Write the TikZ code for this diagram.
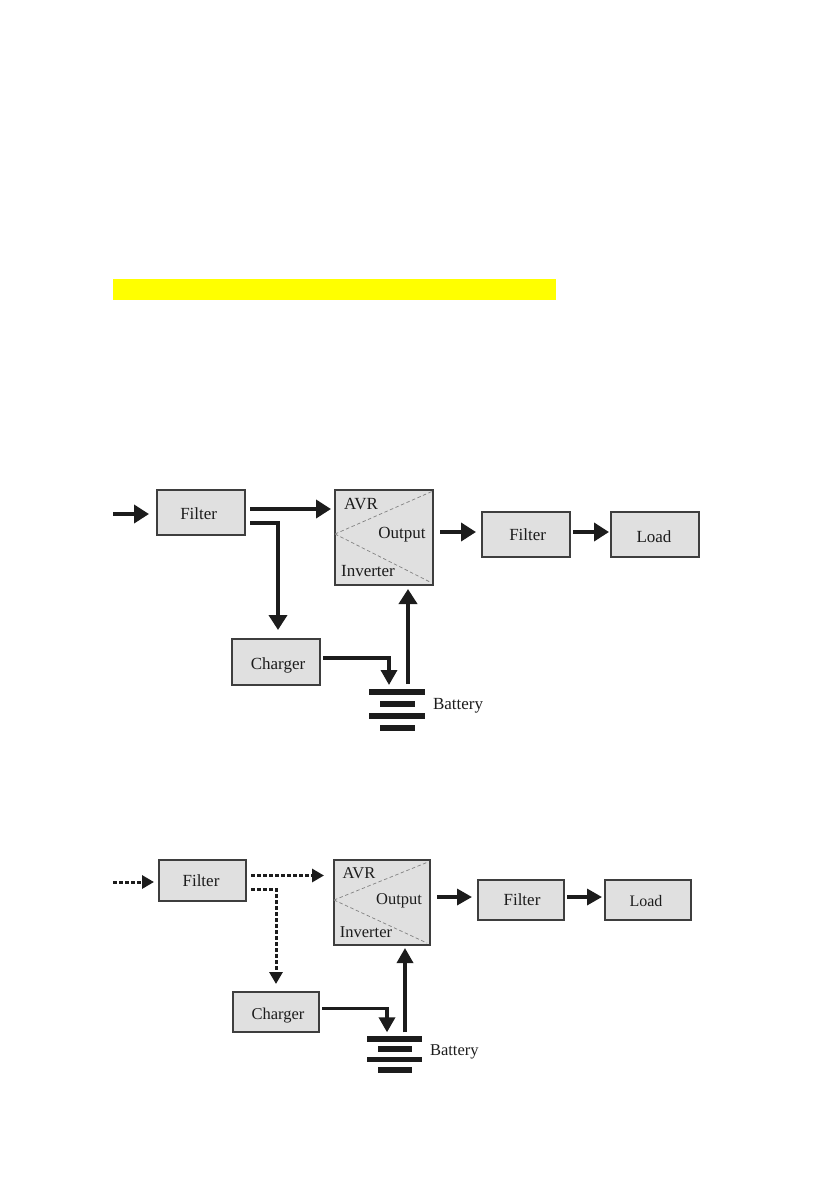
\documentclass[tikz,border=0pt]{standalone}
\usepackage{fontspec}
\setmainfont{Liberation Serif}
\usetikzlibrary{arrows.meta}
\definecolor{boxfill}{HTML}{E0E0E0}
\definecolor{ink}{HTML}{1C1C1C}
\definecolor{hilite}{HTML}{FFFF00}
\tikzset{
  blk/.style={draw=ink!85,line width=1.4pt,fill=boxfill,inner sep=0pt,outer sep=0pt,text=ink,font=\fontsize{17}{17}\selectfont},
  base/.style={text height=#1,text depth=0pt},
  lbl/.style={inner sep=0pt,outer sep=0pt,text=ink,font=\fontsize{17}{17}\selectfont},
  lbls/.style={lbl,font=\fontsize{16.5}{17}\selectfont},
  flow/.style={draw=ink,line width=4pt,-{Triangle[length=15pt,width=18pt]}},
  flowb/.style={draw=ink,line width=3.4pt,-{Triangle[length=15pt,width=16pt]}},
  dots/.style={draw=ink,line width=3pt,dash pattern=on 4.4pt off 1.6pt,-{Triangle[length=12pt,width=13pt]}},
  plate/.style={fill=ink,draw=none,inner sep=0pt,outer sep=0pt},
  split/.style={draw=ink!55,line width=0.7pt,dash pattern=on 3.5pt off 2.5pt},
}
\begin{document}
\begin{tikzpicture}[x=1pt,y=-1pt]
\useasboundingbox (0,0) rectangle (839,1191);
\fill[hilite] (113,279) rectangle (556,300);

% --- upper diagram
\coordinate (inA) at (113,514);
\node[blk,base=13pt,minimum width=88pt,minimum height=45pt] (filA) at (201,512.5) {\kern-4.6pt Filter};
\node[blk,minimum width=98pt,minimum height=95pt] (avrA) at (384,537.5) {};
\node[blk,base=11pt,minimum width=88pt,minimum height=45pt] (outA) at (526,534.5) {\kern3.4pt Filter};
\node[blk,base=16pt,minimum width=88pt,minimum height=45pt] (loadA) at (655,534.5) {\kern-2pt Load};
\node[blk,base=14pt,minimum width=88pt,minimum height=46pt] (chgA) at (276,662) {\kern4pt Charger};
\node[plate,minimum width=56pt,minimum height=6pt] (p1A) at (397,692) {};
\node[plate,minimum width=35pt,minimum height=6pt] (p2A) at (397.5,704) {};
\node[plate,minimum width=56pt,minimum height=6pt] (p3A) at (397,716) {};
\node[plate,minimum width=35pt,minimum height=6pt] (p4A) at (397.5,728) {};
\node[lbl,anchor=west] (batA) at (433,706) {Battery};
\node[lbl] (t1A) at (361,504) {AVR};
\node[lbl] (t2A) at (402,534.5) {Output};
\node[lbl] (t3A) at (368,571) {Inverter};
\draw[split] ([yshift=3.5pt]avrA.west) -- ([yshift=-1pt]avrA.north east);
\draw[split] ([yshift=3.5pt]avrA.west) -- ([xshift=-3pt,yshift=3pt]avrA.south east);
\draw[flow] (inA) -- ([xshift=-8pt,yshift=-1.5pt]filA.west);
\draw[flow] ([xshift=5pt,yshift=3.5pt]filA.east) -- ([xshift=-4pt,yshift=28.5pt]avrA.west);
\draw[flow] ([xshift=5pt,yshift=-10.5pt]filA.east) -| ([xshift=2pt,yshift=9pt]chgA.north);
\draw[flow] ([xshift=7pt,yshift=5.5pt]avrA.east) -- ([xshift=-6pt,yshift=2.5pt]outA.west);
\draw[flow] ([xshift=3pt,yshift=2.5pt]outA.east) -- ([xshift=-2pt,yshift=2.5pt]loadA.west);
\draw[flowb] ([xshift=3pt,yshift=4pt]chgA.east) -| ([xshift=-8pt,yshift=4pt]p1A.north);
\draw[flow] ([xshift=11pt,yshift=5pt]p1A.north) -- ([xshift=24pt,yshift=-4pt]avrA.south);

% --- lower diagram
\coordinate (inB) at (113,882);
\node[blk,base=12pt,minimum width=87pt,minimum height=41pt] (filB) at (202.5,880.5) {\kern-3pt Filter};
\node[blk,minimum width=96pt,minimum height=85pt] (avrB) at (382,902.5) {};
\node[blk,base=11pt,minimum width=86pt,minimum height=40pt] (outB) at (521,900) {\kern2pt Filter};
\node[blk,base=13pt,minimum width=86pt,minimum height=40pt] (loadB) at (648,900) {\kern-4pt\fontsize{16}{17}\selectfont Load};
\node[blk,base=14pt,minimum width=86pt,minimum height=40pt] (chgB) at (276,1012) {\kern4pt\fontsize{16.5}{17}\selectfont Charger};
\node[plate,minimum width=55pt,minimum height=5.4pt] (p1B) at (394.5,1039) {};
\node[plate,minimum width=34pt,minimum height=5.4pt] (p2B) at (395,1049) {};
\node[plate,minimum width=55pt,minimum height=5.4pt] (p3B) at (394.5,1059.5) {};
\node[plate,minimum width=34pt,minimum height=5.4pt] (p4B) at (395,1070) {};
\node[lbls,anchor=west] (batB) at (430,1051.5) {Battery};
\node[lbls] (t1B) at (359,873) {AVR};
\node[lbls] (t2B) at (399,900.5) {Output};
\node[lbls] (t3B) at (366,932) {Inverter};
\draw[split] ([yshift=2.5pt]avrB.west) -- ([xshift=-2pt,yshift=-2pt]avrB.north east);
\draw[split] ([yshift=2.5pt]avrB.west) -- ([xshift=-3pt,yshift=2pt]avrB.south east);
\draw[dots] (inB) -- ([xshift=-5pt,yshift=-1.5pt]filB.west);
\draw[dots] ([xshift=5pt,yshift=5pt]filB.east) -- ([xshift=-10pt,yshift=27pt]avrB.west);
\draw[dots] ([xshift=5pt,yshift=-8.5pt]filB.east) -| ([yshift=8pt]chgB.north);
\draw[flowb] ([xshift=7pt,yshift=5.5pt]avrB.east) -- ([xshift=-6pt,yshift=3pt]outB.west);
\draw[flowb] ([xshift=3pt,yshift=3pt]outB.east) -- ([xshift=-3pt,yshift=3pt]loadB.west);
\draw[flowb] ([xshift=3pt,yshift=3.5pt]chgB.east) -| ([xshift=-7.5pt,yshift=4pt]p1B.north);
\draw[flowb] ([xshift=10.5pt,yshift=4pt]p1B.north) -- ([xshift=23pt,yshift=-3pt]avrB.south);
\end{tikzpicture}
\end{document}
